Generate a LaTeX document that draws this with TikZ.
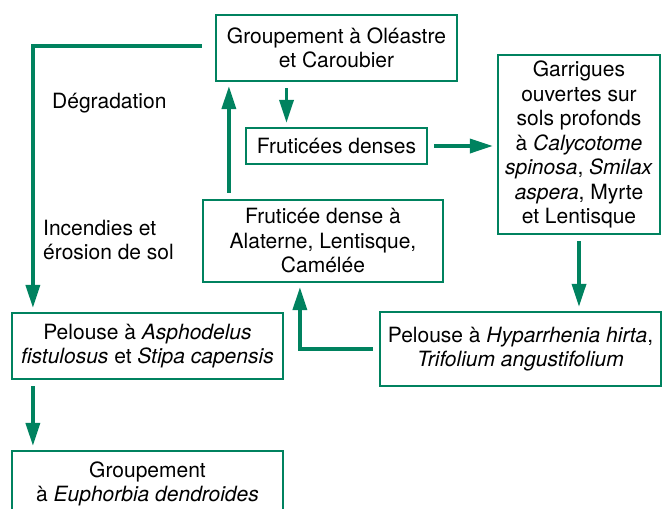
\documentclass[tikz,border=0pt]{standalone}
\usepackage{fontspec}
\setmainfont{TeX Gyre Heros}
\usepackage{tikz}
\usetikzlibrary{
	arrows.meta,
	positioning,
	calc
}
\definecolor{vert}{RGB}{0,130,95}

\begin{document}
\begin{tikzpicture}[
				x=1pt, y=-1pt,
				stage/.style={
					rectangle, draw=vert, line width=2.2pt,
					inner sep=2pt, align=center,
					font=\fontsize{21}{24.5}\selectfont
				},
				label/.style={
					anchor=west, align=left, inner sep=0pt,
					font=\fontsize{21}{24.5}\selectfont
				},
				arrow/.style={-{Triangle[length=23pt,width=14pt]}, line width=3.5pt, vert,
					shorten >=4pt, shorten <=6pt}
				]
				\useasboundingbox (0,0) rectangle (662,509);
				
				% Groupement a Oleastre
				\node[stage, minimum width=241pt, minimum height=66pt] (oleastre) at (336.5,48)
					{Groupement à Oléastre\\et Caroubier};
				
				% Fruticees denses
				\node[stage, minimum width=181pt, minimum height=36pt] (fruticees) at (336.5,146)
					{Fruticées denses};
				
				% Garrigues
				\node[stage, minimum width=162pt, minimum height=179pt] (garrigues) at (579,144.5)
					{Garrigues\\ouvertes sur\\sols profonds\\à \textit{Calycotome}\\\textit{spinosa}, \textit{Smilax}\\\textit{aspera}, Myrte\\et Lentisque};
				
				% Fruticee dense a Alaterne
				\node[stage, minimum width=240pt, minimum height=82pt] (alaterne) at (323,241)
					{Fruticée dense à\\Alaterne, Lentisque,\\Camélée};
				
				% Pelouse a Hyparrhenia
				\node[stage, minimum width=281pt, minimum height=74pt] (hyparrhenia) at (520.5,349)
					{Pelouse à \textit{Hyparrhenia hirta},\\\textit{Trifolium angustifolium}};
				
				% Pelouse a Asphodelus
				\node[stage, minimum width=271pt, minimum height=66pt] (asphodelus) at (147.5,346)
					{Pelouse à \textit{Asphodelus}\\\textit{fistulosus} et \textit{Stipa capensis}};
				
				% Groupement a Euphorbia (cut at the bottom)
				\node[stage, minimum width=271pt, minimum height=66pt] (euphorbia) at (147.5,484)
					{Groupement\\à \textit{Euphorbia dendroides}};
				
				% side texts
				\node[label] (degradation) at (52,103) {Dégradation};
				\node[label] (incendies) at (43,240) {Incendies et\\érosion de sol};
				
				% arrows between nodes
				\draw[arrow] ([xshift=-50pt]oleastre.south) -- ([xshift=-50pt]oleastre.south |- fruticees.north);
				\draw[arrow] (fruticees.east) -- (fruticees.east -| garrigues.west);
				\draw[arrow] (garrigues.south) -- (garrigues.south |- hyparrhenia.north);
				\draw[arrow] (hyparrhenia.west) -| ([xshift=98pt]alaterne.south west);
				\draw[arrow] ([xshift=27pt]alaterne.north west) -- ([xshift=27pt]alaterne.north west |- oleastre.south);
				\draw[arrow, shorten <=13pt] ([yshift=2pt]oleastre.west) -| ([xshift=22pt]asphodelus.north west);
				\draw[arrow] ([xshift=22pt]asphodelus.south west) -- ([xshift=22pt]asphodelus.south west |- euphorbia.north);
			\end{tikzpicture}
\end{document}
